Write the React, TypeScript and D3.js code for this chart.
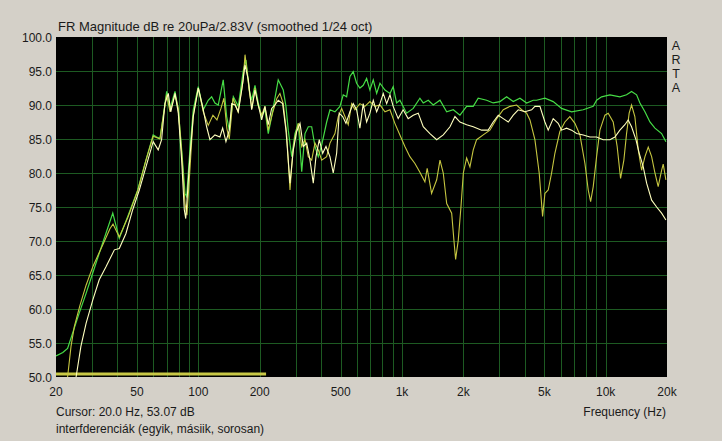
import React from 'react';
import * as d3 from 'd3';

// frequency response curves: [Hz, dB]
const greenCurve: [number, number][] = [
  [20, 53.1], [21.6, 53.6], [22.8, 54.2], [24.1, 56.4], [26.0, 59.4], [28.1, 62.3], [30.3, 65.3],
  [33.9, 69.7], [38.0, 74.1], [40.9, 70.4], [45.0, 73.6], [50.4, 77.5], [55.3, 81.9], [60.0, 85.6],
  [62.4, 85.3], [64.8, 85.1], [66.8, 87.8], [69.9, 92.0], [72.6, 89.5], [76.8, 92.0], [79.7, 89.3],
  [82.8, 83.4], [86.0, 77.0], [87.6, 76.5], [90.9, 83.4], [94.4, 89.3], [99.9, 92.7], [105.7, 89.3],
  [111.8, 90.7], [116.2, 91.2], [120.6, 90.3], [125.2, 90.0], [132.5, 93.7], [137.7, 88.3],
  [141.9, 86.3], [148.5, 91.2], [157.1, 89.8], [166.3, 95.1], [171.4, 96.6], [177.9, 92.2],
  [182.7, 90.7], [189.7, 92.9], [196.9, 90.3], [204.6, 88.3], [212.3, 89.3], [220.4, 85.8],
  [229.0, 88.3], [246.7, 93.7], [261.1, 92.2], [269.2, 89.8], [276.3, 86.3], [287.3, 82.4],
  [298.2, 85.8], [309.6, 87.3], [321.7, 80.2], [333.9, 85.8], [346.6, 86.8], [360.1, 86.8],
  [373.8, 83.9], [388.0, 82.4], [403.2, 84.1], [426.6, 87.5], [442.8, 89.3], [468.4, 89.0],
  [495.6, 89.8], [514.5, 91.5], [534.6, 91.2], [555, 94.2], [575.9, 94.9], [598.4, 93.2],
  [621.2, 92.5], [644.8, 92.9], [670.1, 93.9], [695.5, 92.2], [722.4, 93.7], [750.7, 91.7],
  [779.3, 93.2], [824.6, 92.2], [872.6, 91.7], [905, 92.7], [940.5, 90.3], [976.3, 90.7],
  [1053, 88.8], [1135, 89.5], [1224, 91.0], [1271, 90.3], [1345, 90.7], [1423, 90.0], [1536, 90.7],
  [1657, 89.0], [1785, 89.3], [1925, 88.5], [2076, 89.8], [2237, 89.8], [2366, 91.0], [2602, 90.7],
  [2803, 90.3], [3026, 90.5], [3264, 91.2], [3517, 90.5], [3793, 91.0], [4092, 90.3], [4408, 90.7],
  [4579, 90.7], [5030, 91.0], [5524, 90.5], [6073, 89.5], [6799, 89.0], [7757, 89.3], [8686, 89.8],
  [9023, 90.7], [9549, 91.2], [10488, 91.5], [11740, 91.2], [12662, 91.5], [13398, 92.0],
  [14182, 91.5], [14729, 90.3], [15585, 89.0], [16491, 87.5], [17449, 86.6], [18816, 85.8],
  [19754, 84.6],
];

const oliveCurve: [number, number][] = [
  [22.8, 50.0], [23.7, 54.5], [24.6, 57.4], [26.2, 60.5], [28.1, 63.5], [30.4, 66.3], [34.0, 69.5],
  [36.8, 71.8], [38.1, 72.5], [40.9, 70.6], [45.1, 73.5], [50.5, 77.5], [55.3, 81.9], [60.0, 85.4],
  [62.6, 85.2], [64.8, 85.0], [67.0, 88.0], [69.9, 91.5], [72.6, 89.0], [76.8, 91.5], [79.7, 89.5],
  [82.8, 83.0], [86.0, 75.5], [87.9, 73.8], [90.9, 80.5], [94.4, 88.5], [99.9, 92.5], [105.7, 89.0],
  [111.8, 87.0], [117.9, 88.5], [123.4, 87.8], [129.1, 89.5], [133.5, 91.0], [138.1, 86.5],
  [141.9, 85.0], [148.0, 91.0], [156.6, 89.0], [165.7, 93.5], [169.5, 97.4], [173.3, 95.0],
  [177.9, 92.0], [183.3, 89.5], [189.7, 92.5], [196.2, 90.0], [204.6, 88.5], [212.3, 89.8],
  [220.4, 86.3], [229.8, 88.5], [243.1, 91.0], [251.5, 91.7], [261.1, 90.2], [271.3, 85.8],
  [281.8, 77.5], [290.6, 82.9], [298.2, 85.3], [309.6, 87.3], [321.7, 83.9], [333.9, 84.9],
  [346.6, 82.4], [360.1, 81.9], [373.8, 84.4], [388.0, 83.4], [403.2, 81.9], [426.6, 82.4],
  [442.8, 84.4], [468.4, 85.8], [486.2, 88.3], [505.3, 89.5], [524.5, 88.3], [544.4, 87.1],
  [565.7, 90.2], [587.0, 89.3], [621.2, 90.2], [657.3, 89.8], [695.5, 90.5], [736.5, 89.8],
  [779.3, 90.0], [824.6, 89.0], [872.6, 89.3], [922.5, 87.3], [976.3, 85.6], [1033, 83.9],
  [1093, 82.4], [1157, 81.4], [1224, 80.1], [1295, 78.7], [1329, 80.7], [1397, 77.0], [1480, 79.0],
  [1536, 81.9], [1594, 80.0], [1657, 75.5], [1753, 74.1], [1798, 70.1], [1833, 67.3], [1888, 70.1],
  [1947, 75.0], [2000, 80.0], [2076, 82.2], [2155, 80.9], [2237, 83.4], [2324, 84.9], [2504, 85.6],
  [2701, 86.3], [2916, 88.0], [3141, 89.3], [3389, 89.8], [3654, 90.0], [3866, 89.3], [4092, 88.8],
  [4247, 87.8], [4492, 84.9], [4716, 80.0], [4900, 73.6], [5030, 77.0], [5221, 77.5], [5425, 80.0],
  [5631, 82.9], [5957, 86.1], [6304, 87.5], [6670, 88.3], [7063, 87.3], [7474, 85.6], [7908, 81.4],
  [8209, 77.5], [8434, 75.8], [8686, 78.0], [9023, 82.4], [9366, 86.3], [9912, 88.5],
  [10288, 88.8], [10886, 87.5], [11385, 83.9], [11832, 79.2], [12281, 81.9], [12662, 85.8],
  [13039, 88.8], [13398, 90.0], [13906, 88.3], [14451, 83.4], [15013, 80.4], [15585, 82.4],
  [16178, 83.8], [16812, 82.4], [17449, 80.0], [18104, 78.0], [18816, 80.4], [19160, 81.3],
  [19754, 79.0],
];

const whiteCurve: [number, number][] = [
  [25.1, 50.0], [26.5, 54.5], [28.1, 57.9], [30.3, 61.3], [32.6, 64.3], [35.2, 66.2], [38.7, 68.7],
  [40.9, 68.9], [44.1, 71.1], [47.6, 74.6], [51.3, 77.5], [55.3, 80.9], [60.0, 84.6], [63.5, 83.4],
  [66.0, 84.9], [68.5, 90.2], [71.2, 91.7], [73.2, 89.0], [76.8, 91.7], [79.7, 88.8], [82.8, 81.9],
  [85.3, 74.6], [86.7, 73.3], [88.2, 76.5], [90.9, 82.4], [94.4, 88.3], [99.9, 92.5], [104.9, 89.8],
  [109.8, 86.8], [114.0, 84.9], [120.6, 85.6], [127.6, 85.3], [131.6, 86.6], [136.6, 84.6],
  [141.9, 86.3], [145.8, 90.2], [151.4, 90.0], [157.1, 89.0], [163.3, 92.2], [169.5, 95.9],
  [175.9, 93.7], [182.7, 89.3], [189.7, 92.2], [196.9, 90.0], [204.6, 87.8], [212.3, 89.8],
  [220.4, 87.1], [229.0, 89.5], [237.7, 90.0], [246.7, 90.7], [259.3, 90.2], [269.2, 86.3],
  [281.8, 78.5], [292.6, 83.4], [304.0, 86.1], [315.6, 87.3], [327.6, 83.9], [340.4, 84.4],
  [353.3, 81.9], [366.7, 78.5], [378.0, 82.4], [392.4, 84.9], [407.8, 82.9], [423.3, 83.9],
  [442.8, 82.4], [459.5, 80.0], [477.5, 82.9], [491.7, 88.8], [511.0, 88.3], [530.4, 87.3],
  [555.0, 89.0], [575.9, 90.2], [598.4, 89.3], [621.2, 86.6], [644.8, 90.2], [670.1, 87.5],
  [695.5, 88.8], [722.4, 90.7], [750.7, 89.0], [779.3, 90.2], [808.9, 91.7], [840.5, 90.2],
  [872.6, 91.5], [905.0, 89.8], [957.7, 88.0], [1013, 89.3], [1072, 88.0], [1135, 88.5],
  [1201, 88.8], [1271, 86.8], [1371, 85.8], [1480, 84.9], [1594, 85.6], [1720, 86.8], [1819, 88.3],
  [1925, 87.5], [2076, 87.1], [2237, 86.8], [2459, 86.3], [2649, 86.3], [2803, 87.5], [2969, 88.5],
  [3141, 88.0], [3324, 87.5], [3517, 88.5], [3721, 89.3], [4014, 89.0], [4329, 89.3], [4492, 89.8],
  [4753, 89.8], [5030, 87.5], [5221, 86.3], [5524, 88.0], [5844, 87.3], [6073, 86.3], [6426, 86.6],
  [6799, 86.3], [7201, 85.8], [7757, 85.6], [8368, 85.3], [9023, 85.3], [9722, 84.9], [10488, 84.9],
  [11098, 85.3], [11740, 86.3], [12421, 87.1], [12893, 87.8], [13398, 86.8], [14077, 84.9],
  [14613, 82.9], [15288, 80.9], [15887, 78.5], [16812, 76.0], [17789, 75.0], [18816, 74.1],
  [19754, 73.1],
];

// marker band along the bottom edge
const markerBand: [number, number][] = [[20, 50.45], [215, 50.45]];

const xTickValues = [20, 50, 100, 200, 500, 1000, 2000, 5000, 10000, 20000];
const xTickLabels = ['20', '50', '100', '200', '500', '1k', '2k', '5k', '10k', '20k'];
const yTickValues = [50, 55, 60, 65, 70, 75, 80, 85, 90, 95, 100];

const title = 'FR Magnitude dB re 20uPa/2.83V (smoothed 1/24 oct)';
const cursorText = 'Cursor: 20.0 Hz, 53.07 dB';
const noteText = 'interfderenciák (egyik, másiik, sorosan)';
const brand = ['A', 'R', 'T', 'A'];

const W = 722;
const H = 441;
const plot = { left: 56, right: 667, top: 37, bottom: 377 };
const font = 'Arial, "Liberation Sans", sans-serif';
const ink = '#1a1a1a';

export default function App() {
  const x = d3.scaleLog().domain([20, 20000]).range([plot.left, plot.right]);
  const y = d3.scaleLinear().domain([50, 100]).range([plot.bottom, plot.top]);
  const line = d3.line<[number, number]>()
    .x(d => x(d[0]))
    .y(d => y(d[1]));

  const vGrid = x.ticks().filter(v => v > 20 && v < 20000);
  const hGrid = yTickValues.filter(v => v > 50 && v < 100);

  return (
    <svg width={W} height={H} style={{ position: 'absolute', left: 0, top: 0, display: 'block' }}
      fontFamily={font}>
      <rect x={0} y={0} width={W} height={H} fill="#d4d0c8" />
      <defs>
        <clipPath id="plotClip">
          <rect x={plot.left} y={plot.top} width={plot.right - plot.left} height={plot.bottom - plot.top} />
        </clipPath>
      </defs>
      <rect x={plot.left} y={plot.top} width={plot.right - plot.left} height={plot.bottom - plot.top} fill="#000" />

      <g stroke="#1d5a22" strokeWidth={1} shapeRendering="crispEdges">
        {vGrid.map(v => (
          <line key={'v' + v} x1={Math.round(x(v)) + 0.5} x2={Math.round(x(v)) + 0.5} y1={plot.top} y2={plot.bottom} />
        ))}
        {hGrid.map(v => (
          <line key={'h' + v} x1={plot.left} x2={plot.right} y1={Math.round(y(v)) + 0.5} y2={Math.round(y(v)) + 0.5} />
        ))}
      </g>

      <g clipPath="url(#plotClip)" fill="none">
        <path d={line(markerBand) || ''} stroke="#c8c846" strokeWidth={3} />
        <path d={line(greenCurve) || ''} stroke="#46dc46" strokeWidth={1.2} />
        <path d={line(oliveCurve) || ''} stroke="#c6c640" strokeWidth={1.1} />
        <path d={line(whiteCurve) || ''} stroke="#ffffbe" strokeWidth={1.1} />
      </g>

      <text x={58} y={31} fontSize={13} fill={ink}>{title}</text>

      <g fontSize={12} fill={ink} textAnchor="end">
        {yTickValues.map(v => (
          <text key={v} x={52} y={y(v) + 4.5}>{v.toFixed(1)}</text>
        ))}
      </g>

      <g fontSize={12} fill={ink} textAnchor="middle">
        {xTickValues.map((v, i) => (
          <text key={v} x={x(v)} y={396}>{xTickLabels[i]}</text>
        ))}
      </g>

      <text x={56} y={416} fontSize={12} fill={ink}>{cursorText}</text>
      <text x={56} y={433} fontSize={12} fill={ink}>{noteText}</text>
      <text x={666} y={416} fontSize={12} fill={ink} textAnchor="end">Frequency (Hz)</text>

      <g fontSize={12.5} fill={ink} textAnchor="middle">
        {brand.map((c, i) => (
          <text key={i} x={676} y={49.5 + i * 14}>{c}</text>
        ))}
      </g>
    </svg>
  );
}
